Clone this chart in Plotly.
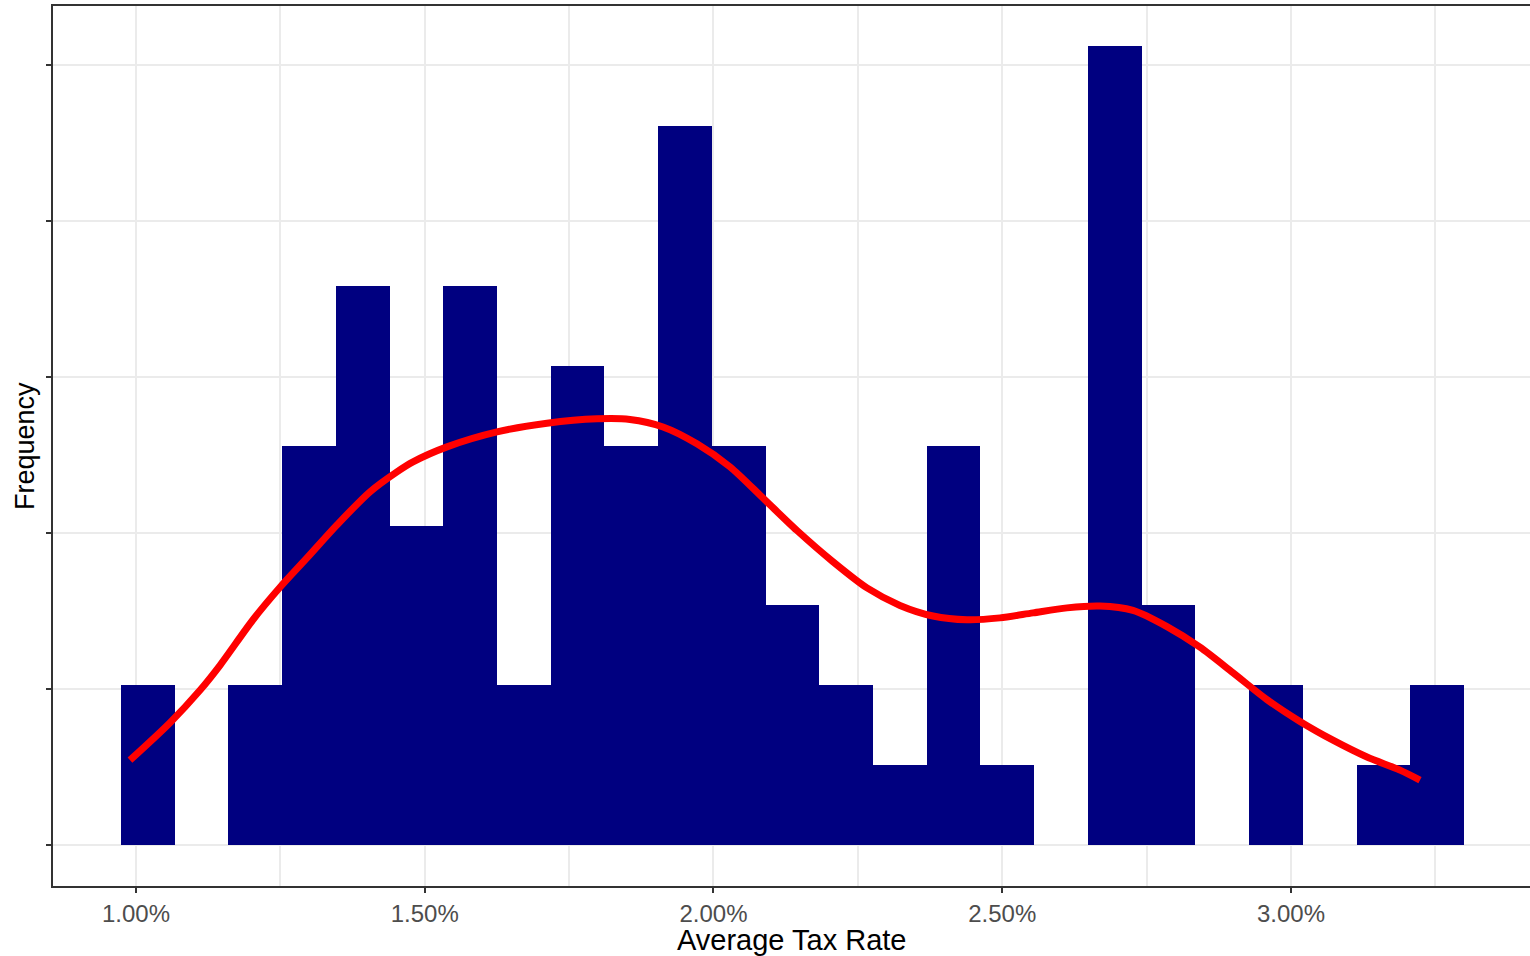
import plotly.graph_objects as go

# Histogram bins (fraction units) and counts
bin_start = 0.009740
bin_width = 0.00093022
counts = [2, 0, 2, 5, 7, 4, 7, 2, 6, 5, 9, 5, 3, 2, 1, 5, 1, 0, 10, 3, 0, 2, 0, 1, 2]

# Density curve (x in percent, y in density units)
dens_x_pct = [0.9896, 1.0589, 1.1108, 1.1455, 1.2026, 1.2494, 1.2961, 1.3481, 1.4052,
              1.4519, 1.4797, 1.5385, 1.6251, 1.7117, 1.7983, 1.8554, 1.9126, 1.9714,
              2.0286, 2.0857, 2.1446, 2.2069, 2.2658, 2.3229, 2.3801, 2.4390, 2.4961,
              2.5532, 2.6121, 2.6693, 2.7264, 2.7853, 2.8424, 2.8996, 2.9584, 3.0156,
              3.0727, 3.1316, 3.1887, 3.2234]
dens_y = [13.6, 19.6, 24.8, 28.8, 36.1, 41.3, 46.0, 51.3, 56.6,
          59.8, 61.4, 63.8, 66.2, 67.6, 68.3, 68.2, 67.0, 64.3,
          60.6, 55.6, 50.4, 45.4, 41.2, 38.4, 36.7, 36.1, 36.4,
          37.2, 38.0, 38.3, 37.6, 35.0, 31.7, 27.6, 23.3, 19.8,
          16.8, 14.1, 12.0, 10.4]

x_tickvals = [0.010, 0.015, 0.020, 0.025, 0.030]
x_ticktext = ["1.00%", "1.50%", "2.00%", "2.50%", "3.00%"]
y_tickvals = [0, 25, 50, 75, 100, 125]

n_total = sum(counts)
centers = [bin_start + bin_width * (i + 0.5) for i in range(len(counts))]
density_bars = [c / (n_total * bin_width) for c in counts]
dens_x = [v / 100 for v in dens_x_pct]

fig = go.Figure()
fig.add_trace(go.Bar(
    x=centers, y=density_bars, width=[bin_width] * len(counts),
    marker=dict(color="#000080", line=dict(width=0)),
    showlegend=False, hoverinfo="skip",
))
fig.add_trace(go.Scatter(
    x=dens_x, y=dens_y, mode="lines",
    line=dict(color="#FF0000", width=7, shape="spline", smoothing=0.8),
    showlegend=False,
))

grid_col = "#EBEBEB"
axis_col = "#333333"

fig.update_layout(
    width=1530, height=956,
    margin=dict(l=53, r=0, t=6, b=70),
    paper_bgcolor="white", plot_bgcolor="white",
    bargap=0,
    font=dict(family="Liberation Sans, Arial, sans-serif"),
    xaxis=dict(
        range=[0.008563, 0.034139],
        automargin=False,
        tickvals=x_tickvals, ticktext=x_ticktext,
        tickfont=dict(size=24, color="#4D4D4D"),
        ticks="outside", ticklen=5, tickwidth=1.5, tickcolor=axis_col,
        showgrid=True, gridcolor=grid_col, gridwidth=1.6,
        minor=dict(dtick=0.0025, tick0=0.01, showgrid=True, gridcolor=grid_col, gridwidth=1.6, ticks=""),
        showline=True, linecolor=axis_col, linewidth=1.6, mirror=True,
        zeroline=False,
        ticklabelstandoff=0,
    ),
    yaxis=dict(
        range=[-6.57, 134.46],
        automargin=False,
        tickvals=y_tickvals, showticklabels=False,
        ticks="outside", ticklen=5, tickwidth=1.5, tickcolor=axis_col,
        showgrid=True, gridcolor=grid_col, gridwidth=1.6,
        showline=True, linecolor=axis_col, linewidth=1.6, mirror=False,
        zeroline=False,
    ),
    annotations=[
        dict(text="Average Tax Rate", x=0.5, y=-54 / 880, xref="paper", yref="paper",
             xanchor="center", yanchor="middle", showarrow=False,
             font=dict(size=29, color="black")),
        dict(text="Frequency", x=(25 - 53) / 1477, y=0.5, xref="paper", yref="paper",
             xanchor="center", yanchor="middle", showarrow=False, textangle=-90,
             font=dict(size=27, color="black")),
    ],
)

fig.write_html(
    "out.html",
    config={"displayModeBar": False},
    post_script="document.body.style.margin='0';document.body.style.overflow='hidden';",
)
